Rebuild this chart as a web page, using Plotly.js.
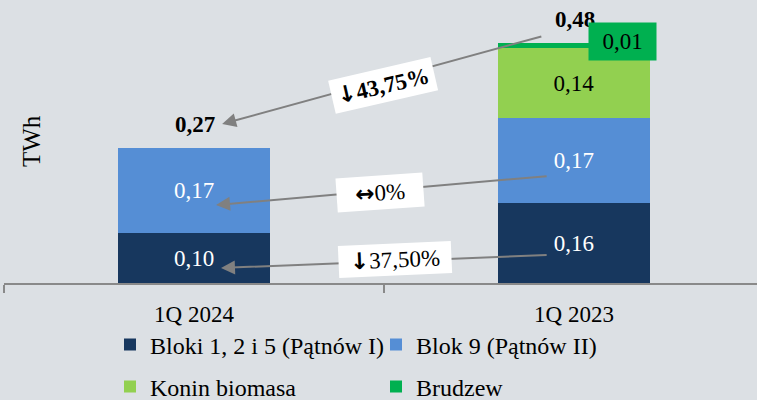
<!DOCTYPE html>
<html>
<head>
<meta charset="utf-8">
<script src="https://cdn.plot.ly/plotly-3.0.1.min.js"></script>
<style>
  html, body { margin: 0; padding: 0; overflow: hidden; background: #dce0e4; }
  #chart { width: 757px; height: 400px; }
</style>
</head>
<body>
<div id="chart"></div>
<script>
// ---- data ----
const categories = ['1Q 2024', '1Q 2023'];
const seriesNames = ['Bloki 1, 2 i 5 (Pątnów I)', 'Blok 9 (Pątnów II)', 'Konin biomasa', 'Brudzew'];
const bloki = [0.10, 0.16];
const blok9 = [0.17, 0.17];
const konin = [null, 0.14];
const brudzew = [null, 0.01];
const totals = [0.27, 0.48];
const changeArrows = ['↓', '↔', '↓'];
const changeTexts = ['43,75%', '0%', '37,50%'];
const unitLabel = 'TWh';

// ---- styles ----
const FONT = 'Liberation Serif, Times New Roman, serif';
const colors = ['#17375e', '#558ed5', '#92d050', '#00b050'];
const textColors = ['#ffffff', '#ffffff', '#000000', '#000000'];
const arrowColor = '#808080';

const values = [bloki, blok9, konin, brudzew];
const traces = values.map((v, i) => ({
  type: 'bar',
  name: seriesNames[i],
  x: categories,
  y: v,
  width: 0.4,
  marker: { color: colors[i], line: { width: 0 } },
  texttemplate: '%{y:.2f}',
  textposition: i === 3 ? 'none' : 'inside',
  insidetextanchor: 'middle',
  textfont: { family: FONT, size: 23, color: textColors[i] },
  legend: i < 2 ? 'legend' : 'legend2',
  hoverinfo: 'skip'
}));

const annotations = [];
// totals above bars
totals.forEach((t, i) => {
  annotations.push({
    xref: 'x', yref: 'y', x: i, y: t,
    text: '<b>' + t.toFixed(2).replace('.', ',') + '</b>',
    showarrow: false, yanchor: 'middle', yshift: 24, xshift: 1,
    font: { family: FONT, size: 23, color: '#000' }
  });
});
// Brudzew value in green box
annotations.push({
  xref: 'x', yref: 'y', x: 1, y: totals[1],
  text: brudzew[1].toFixed(2).replace('.', ','),
  showarrow: false, xshift: 48.5, yshift: 1.5,
  width: 67, height: 37, borderpad: 0,
  bgcolor: colors[3],
  font: { family: FONT, size: 23, color: '#000' }
});
// comparison arrows (tip near 2024 labels, tail near 2023 labels)
const arrows = [
  { x: 0.074, y: 0.318, ax: 0.918, ay: 0.494 },
  { x: 0.058, y: 0.156, ax: 0.932, ay: 0.214 },
  { x: 0.071, y: 0.030, ax: 0.932, ay: 0.056 }
];
arrows.forEach(a => {
  annotations.push({
    xref: 'x', yref: 'y', axref: 'x', ayref: 'y',
    x: a.x, y: a.y, ax: a.ax, ay: a.ay,
    text: '', showarrow: true,
    arrowhead: 2, arrowsize: 1.4, arrowwidth: 2, arrowcolor: arrowColor,
    standoff: 0, startstandoff: 0
  });
});
// change labels on arrows
const labelPos = [
  { x: 0.497, y: 0.396, ang: -13, w: 104, h: 33, bold: true },
  { x: 0.489, y: 0.182, ang: -4, w: 86, h: 33, bold: false },
  { x: 0.529, y: 0.047, ang: -2.5, w: 112, h: 31, bold: false }
];
labelPos.forEach((p, i) => {
  const arrowGlyph = '<span style="font-family:DejaVu Sans"><b>' + changeArrows[i] + '</b></span>';
  const txt = p.bold ? '<b>' + changeTexts[i] + '</b>' : changeTexts[i];
  annotations.push({
    xref: 'x', yref: 'y', x: p.x, y: p.y,
    text: arrowGlyph + txt, showarrow: false,
    textangle: p.ang, width: p.w, height: p.h, borderpad: 0,
    bgcolor: '#ffffff',
    font: { family: FONT, size: 23, color: '#000' }
  });
});
// y unit title
annotations.push({
  xref: 'paper', yref: 'paper', x: 0.0359, y: 0.52,
  xanchor: 'center', yanchor: 'middle',
  text: unitLabel, textangle: -90, showarrow: false,
  font: { family: FONT, size: 25, color: '#000' }
});

const legendCommon = {
  orientation: 'h', xanchor: 'left', yanchor: 'middle',
  xref: 'container', yref: 'container',
  entrywidth: 221, entrywidthmode: 'pixels',
  bgcolor: 'rgba(0,0,0,0)', traceorder: 'normal',
  font: { family: FONT, size: 24, color: '#000' }
};

const layout = {
  width: 757, height: 400,
  margin: { l: 4, r: 0, t: 10, b: 117, autoexpand: false },
  paper_bgcolor: '#dce0e4', plot_bgcolor: '#dce0e4',
  barmode: 'stack',
  separators: ',.',
  hovermode: false,
  xaxis: {
    type: 'category',
    range: [-0.5, 1.4816],
    showline: true, linecolor: '#898989', linewidth: 1.5,
    ticks: 'outside', tickson: 'boundaries', ticklen: 8, tickwidth: 1.5, tickcolor: '#898989',
    ticklabelstandoff: 10,
    tickfont: { family: FONT, size: 23, color: '#000' },
    showgrid: false, zeroline: false, fixedrange: true, automargin: false
  },
  yaxis: {
    range: [0, 0.546],
    showticklabels: false, showgrid: false, zeroline: false, showline: false, ticks: '',
    fixedrange: true, automargin: false
  },
  showlegend: true,
  legend: Object.assign({}, legendCommon, { x: (110) / 757, y: 1 - 345 / 400 }),
  legend2: Object.assign({}, legendCommon, { x: (110) / 757, y: 1 - 387 / 400 }),
  annotations: annotations
};

Plotly.newPlot('chart', traces, layout, { displayModeBar: false, staticPlot: true });
</script>
</body>
</html>
